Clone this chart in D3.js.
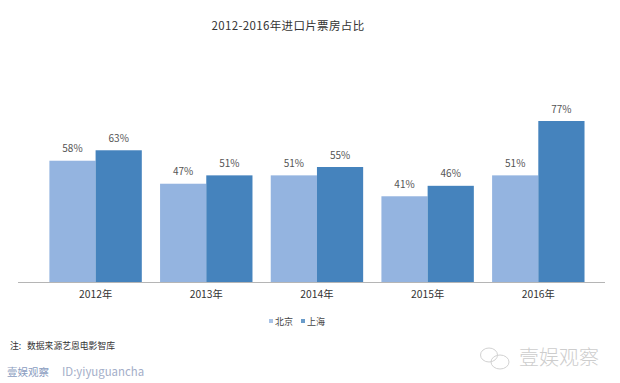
<!DOCTYPE html>
<html><head><meta charset="utf-8">
<script src="https://cdn.jsdelivr.net/npm/d3@7/dist/d3.min.js"></script>
<style>html,body{margin:0;padding:0;background:#fff}svg{display:block}text{font-family:"Noto Sans CJK SC","Noto Sans",sans-serif}</style>
</head><body><svg id="c" width="620" height="383"></svg>
<script>
const years=["2012年","2013年","2014年","2015年","2016年"];
const beijing=[58,47,51,41,51];
const shanghai=[63,51,55,46,77];
const seriesNames=["北京","上海"];
const seriesColors=["#94b4e0","#4583bd"];
const titleText="2012-2016年进口片票房占比";
const noteMark="注:";
const noteText="数据来源艺恩电影智库";
const brandText="壹娱观察";
const idText="ID:yiyuguancha";

const svg=d3.select("#c");
const x0=d3.scaleBand().domain(years).range([40.2,593.7]).paddingInner(0.165).paddingOuter(0.083);
const x1=d3.scaleBand().domain(seriesNames).range([0,x0.bandwidth()]);
const y=d3.scaleLinear().domain([0,77]).range([282,121]);

svg.append("text").attr("x",288).attr("y",30).attr("text-anchor","middle")
  .attr("font-size",11.5).attr("fill","#333").attr("letter-spacing",0.35).text(titleText);

const g=svg.selectAll("g.grp").data(years).join("g").attr("transform",d=>`translate(${x0(d)},0)`);
[beijing,shanghai].forEach((vals,s)=>{
  g.append("rect").attr("x",x1(seriesNames[s])).attr("width",x1.bandwidth())
   .attr("y",(d,i)=>y(vals[i])).attr("height",(d,i)=>y(0)-y(vals[i])).attr("fill",seriesColors[s]);
  g.append("text").attr("x",x1(seriesNames[s])+x1.bandwidth()/2).attr("y",(d,i)=>y(vals[i])-8.5)
   .attr("text-anchor","middle").attr("font-size",10).attr("fill","#555").text((d,i)=>vals[i]+"%");
});

const axis=svg.append("g").attr("transform",`translate(0,${y(0)})`)
  .call(d3.axisBottom(x0).tickSize(0).tickPadding(9));
axis.select(".domain").attr("stroke","#b5b5b5").attr("stroke-width",1).attr("d","M18,0.5H605");
axis.selectAll("text").attr("font-size",10.3).attr("fill","#333").attr("font-family",'"Noto Sans CJK SC",sans-serif');

const lg=svg.append("g");
seriesNames.forEach((n,i)=>{
  const lx=269+i*32;
  lg.append("rect").attr("x",lx).attr("y",319).attr("width",4).attr("height",4).attr("fill",seriesColors[i]).attr("opacity",0.8);
  lg.append("text").attr("x",lx+6).attr("y",325).attr("font-size",9).attr("fill","#444").text(n);
});

svg.append("text").attr("x",10).attr("y",349).attr("font-size",8.8).attr("fill","#333").text(noteMark);
svg.append("text").attr("x",27).attr("y",349).attr("font-size",8.8).attr("fill","#333").text(noteText);
svg.append("text").attr("x",7).attr("y",376).attr("font-size",10.5).attr("fill","#8a9cc0").text(brandText);
svg.append("text").attr("x",62).attr("y",376).attr("font-size",11.4).attr("fill","#a4aec8").attr("font-family","Liberation Sans").text(idText);
svg.append("text").attr("x",519).attr("y",365).attr("font-size",20).attr("font-weight",300).attr("fill","#cdcdcd").text(brandText);

const wm=svg.append("g").attr("fill","none").attr("stroke","#d2d2d2").attr("stroke-width",1);
wm.append("ellipse").attr("cx",489).attr("cy",355).attr("rx",8.5).attr("ry",7);
wm.append("ellipse").attr("cx",500).attr("cy",362).attr("rx",9).attr("ry",7);
</script></body></html>
